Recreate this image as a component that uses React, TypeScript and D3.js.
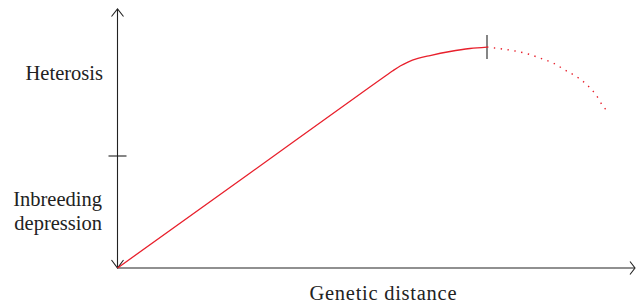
import React from "react";
import * as d3 from "d3";

// genetic distance (relative, 1 = optimum) vs. hybrid performance
const solidDistance = [0, 0.359, 0.683, 0.724, 0.745, 0.765, 0.786, 0.813, 0.846, 0.9, 0.954, 1.0];
const solidEffect = [-1, -0.152, 0.616, 0.712, 0.761, 0.804, 0.839, 0.871, 0.897, 0.933, 0.96, 0.973];
const dottedDistance = [1.0, 1.021, 1.076, 1.111, 1.143, 1.179, 1.211, 1.244, 1.271, 1.295, 1.314, 1.325];
const dottedEffect = [0.973, 0.964, 0.9375, 0.911, 0.875, 0.83, 0.768, 0.705, 0.634, 0.545, 0.446, 0.402];
const yTicks = [0];
const optimumDistance = 1.0;

const W = 636;
const H = 303;
const axisColor = "#222";
const curveColor = "#e8202c";
const font = "'Liberation Serif', 'Times New Roman', serif";

export default function App() {
  const x = d3.scaleLinear().domain([0, 1]).range([117.5, 487]);
  const y = d3.scaleLinear().domain([-1, 0]).range([268, 156]);

  const line = d3
    .line<[number, number]>()
    .x((d) => x(d[0]))
    .y((d) => y(d[1]))
    .curve(d3.curveMonotoneX);

  const solid = solidDistance.map((d, i) => [d, solidEffect[i]] as [number, number]);
  const dotted = dottedDistance.map((d, i) => [d, dottedEffect[i]] as [number, number]);

  const x0 = x(0);
  const y0 = y(-1);
  const yTop = 9;
  const xEnd = 635;

  return (
    <svg width={W} height={H} style={{ position: "absolute", left: 0, top: 0 }}>
      <g fill="none" stroke={axisColor} strokeWidth={1.1}>
        {/* vertical double arrow */}
        <line x1={x0} y1={yTop} x2={x0} y2={y0} />
        <path d={`M${x0 - 6},${yTop + 7.5}L${x0},${yTop}L${x0 + 6},${yTop + 7.5}`} />
        <path d={`M${x0 - 6},${y0 - 8}L${x0},${y0}L${x0 + 6},${y0 - 8}`} />
        {/* horizontal axis */}
        <line x1={x0} y1={y0} x2={xEnd} y2={y0} />
        <path d={`M${xEnd - 5},${y0 - 6.5}L${xEnd},${y0}L${xEnd - 5},${y0 + 6.5}`} />
        {yTicks.map((t) => (
          <line key={t} x1={x0 - 9} x2={x0 + 9} y1={y(t)} y2={y(t)} />
        ))}
        <line x1={x(optimumDistance)} x2={x(optimumDistance)} y1={35} y2={59} />
      </g>
      <path d={line(solid) ?? ""} fill="none" stroke={curveColor} strokeWidth={1.3} />
      <path
        d={line(dotted) ?? ""}
        fill="none"
        stroke={curveColor}
        strokeWidth={1.4}
        strokeDasharray="1.4 5.5"
      />
      <g fontFamily={font} fontSize={20.5} fill="#222" textAnchor="end">
        <text x={103} y={80}>Heterosis</text>
        <text x={102} y={206}>Inbreeding</text>
        <text x={102} y={230}>depression</text>
        <text x={383} y={300} textAnchor="middle" textLength={147} lengthAdjust="spacing">
          Genetic distance
        </text>
      </g>
    </svg>
  );
}
